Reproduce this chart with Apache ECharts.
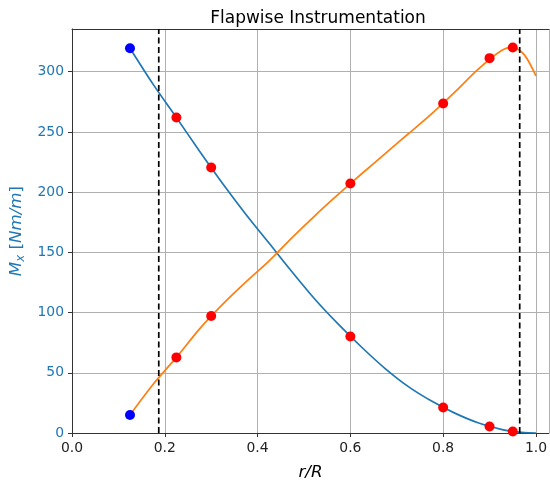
<!DOCTYPE html>
<html>
<head>
<meta charset="utf-8">
<script src="https://cdn.jsdelivr.net/npm/echarts@6/dist/echarts.min.js"></script>
<style>
html,body{margin:0;padding:0;background:#fff;}
#chart{width:550px;height:486px;}
</style>
</head>
<body>
<div id="chart"></div>
<script>
// Curve sample positions (r/R) and values
var curveX = [0.125,0.175,0.225,0.275,0.325,0.375,0.425,0.475,0.525,0.575,0.625,0.675,0.725,0.775,0.825,0.875,0.925,0.95,0.975,1.0];
var blueCurve = [319.5,289.5,262,234,207,181.5,157.5,133.5,110.5,90,71,53.5,38.5,26.5,16.5,8.5,3,1.3,0.3,0];
var orangeCurve = [15,40.5,62.8,86.5,107,125.5,143,162.5,181,198.5,215.5,232,248.5,265,283,302,317.5,320.2,314,296.5];

// Instrumentation points (red) and root points (blue)
var redX = [0.225,0.3,0.6,0.8,0.9,0.95];
var redBlue = [262,220.5,80.2,21.2,5.4,1.3];
var redOrange = [62.8,97.1,207.2,273.6,311.3,320.2];
var rootX = [0.125,0.125];
var rootY = [319.5,15];

// Dashed vertical lines
var dashX = [0.187,0.965];

var xMin = 0, xMax = 1.028, xStep = 0.2;
var yMin = 0, yMax = 335.5, yStep = 50;

function pairs(xs, ys){ return xs.map(function(x,i){ return [x, ys[i]]; }); }

var series = [
  {type:'line', data:pairs(curveX, blueCurve), smooth:0.3, showSymbol:false,
   lineStyle:{color:'#1f77b4', width:1.7}, z:3},
  {type:'line', data:pairs(curveX, orangeCurve), smooth:0.3, showSymbol:false,
   lineStyle:{color:'#ff7f0e', width:1.7}, z:3}
];
dashX.forEach(function(x){
  series.push({type:'line', data:[[x,yMin],[x,yMax]], showSymbol:false,
    lineStyle:{color:'#000', width:1.7, type:[6,3.5]}, z:4});
});
series.push({type:'scatter', data:pairs(redX, redBlue).concat(pairs(redX, redOrange)),
  symbolSize:10, itemStyle:{color:'#ff0000', opacity:1}, z:5});
series.push({type:'scatter', data:pairs(rootX, rootY),
  symbolSize:10, itemStyle:{color:'#0000ff', opacity:1}, z:5});

var chart = echarts.init(document.getElementById('chart'), null, {renderer:'canvas'});
chart.setOption({
  animation:false,
  backgroundColor:'#fff',
  title:{text:'Flapwise Instrumentation', left:313, top:5, textAlign:'center',
    textStyle:{fontFamily:'DejaVu Sans', fontSize:17, fontWeight:'normal', color:'#000'}},
  grid:{left:72, top:29, right:0, bottom:47, show:false},
  xAxis:[{type:'value', min:xMin, max:xMax, interval:xStep,
    name:'r/R', nameLocation:'middle', nameGap:31,
    nameTextStyle:{fontFamily:'DejaVu Sans', fontStyle:'italic', fontSize:16.7, color:'#000'},
    axisLine:{show:true, onZero:false, lineStyle:{color:'#333', width:1}},
    axisTick:{show:true, length:4, lineStyle:{color:'#333'}},
    axisLabel:{showMaxLabel:false, fontFamily:'DejaVu Sans', fontSize:13.9, color:'#222', margin:8,
      formatter:function(v){return v.toFixed(1);}},
    splitLine:{show:true, lineStyle:{color:'#b0b0b0', width:1}}},
   {type:'value', position:'top', min:xMin, max:xMax, interval:xStep,
    axisLine:{show:true, onZero:false, lineStyle:{color:'#333', width:1}},
    axisTick:{show:false}, axisLabel:{show:false}, splitLine:{show:false}}],
  yAxis:{type:'value', min:yMin, max:yMax, interval:yStep,
    name:'{i|M}{s|x}{n| [}{i|Nm/m}{n|]}', nameLocation:'middle', nameGap:42, nameRotate:90,
    nameTextStyle:{color:'#1f77b4', fontFamily:'DejaVu Sans', fontSize:16.7,
      rich:{
        i:{fontFamily:'DejaVu Sans', fontStyle:'italic', fontSize:16.7, color:'#1f77b4'},
        s:{fontFamily:'DejaVu Sans', fontStyle:'italic', fontSize:11.7, color:'#1f77b4', verticalAlign:'bottom', padding:[7,0,0,0]},
        n:{fontFamily:'DejaVu Sans', fontSize:16.7, color:'#1f77b4'}
      }},
    axisLine:{show:true, lineStyle:{color:'#333', width:1}},
    axisTick:{show:true, length:4, lineStyle:{color:'#333'}},
    axisLabel:{showMaxLabel:false, fontFamily:'DejaVu Sans', fontSize:13.9, color:'#1f77b4', margin:8},
    splitLine:{show:true, lineStyle:{color:'#b0b0b0', width:1}}},
  series:series
});
</script>
</body>
</html>
